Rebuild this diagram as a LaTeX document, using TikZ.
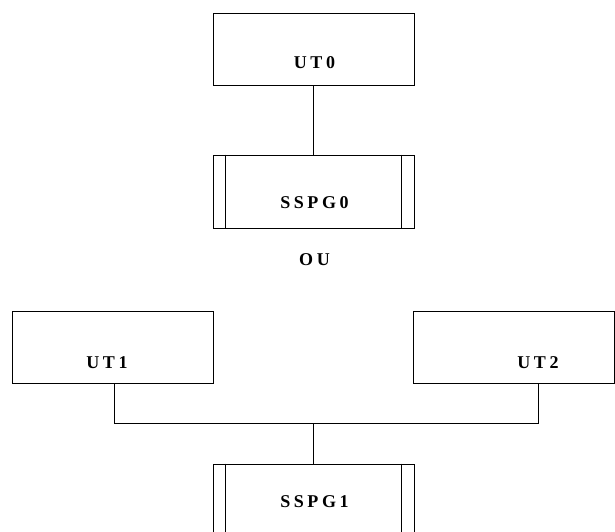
\documentclass[tikz,border=0pt]{standalone}
\usepackage{fontspec}
\newfontfamily\lblfont{Liberation Serif}[LetterSpace=20]
\begin{document}
\begin{tikzpicture}[x=1pt,y=-1pt, line width=0.9pt,
  unit/.style={draw, rectangle, minimum width=201pt, minimum height=72pt, inner sep=0pt},
  gw/.style={draw, rectangle, minimum width=201pt, minimum height=73pt, inner sep=0pt},
  lbl/.style={font=\lblfont\fontsize{18}{20}\selectfont\bfseries, inner sep=0pt}]
\useasboundingbox (0,0) rectangle (615,531);
\clip (0,0) rectangle (615,531);

% top configuration: one terminal on one gateway
\node[unit] (ut0) at (313.5,49) {};
\node[lbl] (ut0t) at (314.5,63) {UT0};
\node[gw] (s0) at (313.5,191.5) {};
\node[lbl] (s0t) at (314.5,203) {SSPG0};
\draw ([xshift=13pt]s0.north west) -- ([xshift=13pt]s0.south west);
\draw ([xshift=-13pt]s0.north east) -- ([xshift=-13pt]s0.south east);
\draw (ut0) -- (s0);

\node[lbl] (ou) at (314.5,260) {OU};

% bottom configuration: two terminals sharing one gateway
\node[unit] (ut1) at (112.5,347) {};
\node[lbl] (ut1t) at (107,363) {UT1};
\node[unit] (ut2) at (514,347) {};
\node[lbl] (ut2t) at (538,363) {UT2};
\node[gw] (s1) at (313.5,500.5) {};
\node[lbl] (s1t) at (314.5,502) {SSPG1};
\draw ([xshift=13pt]s1.north west) -- ([xshift=13pt]s1.south west);
\draw ([xshift=-13pt]s1.north east) -- ([xshift=-13pt]s1.south east);

\coordinate (j) at (313.5,423);
\coordinate (a) at (114,383);
\coordinate (b) at (538,383);
\draw (a) |- (j) -| (b);
\draw (j) -- (s1.north);
\end{tikzpicture}
\end{document}
